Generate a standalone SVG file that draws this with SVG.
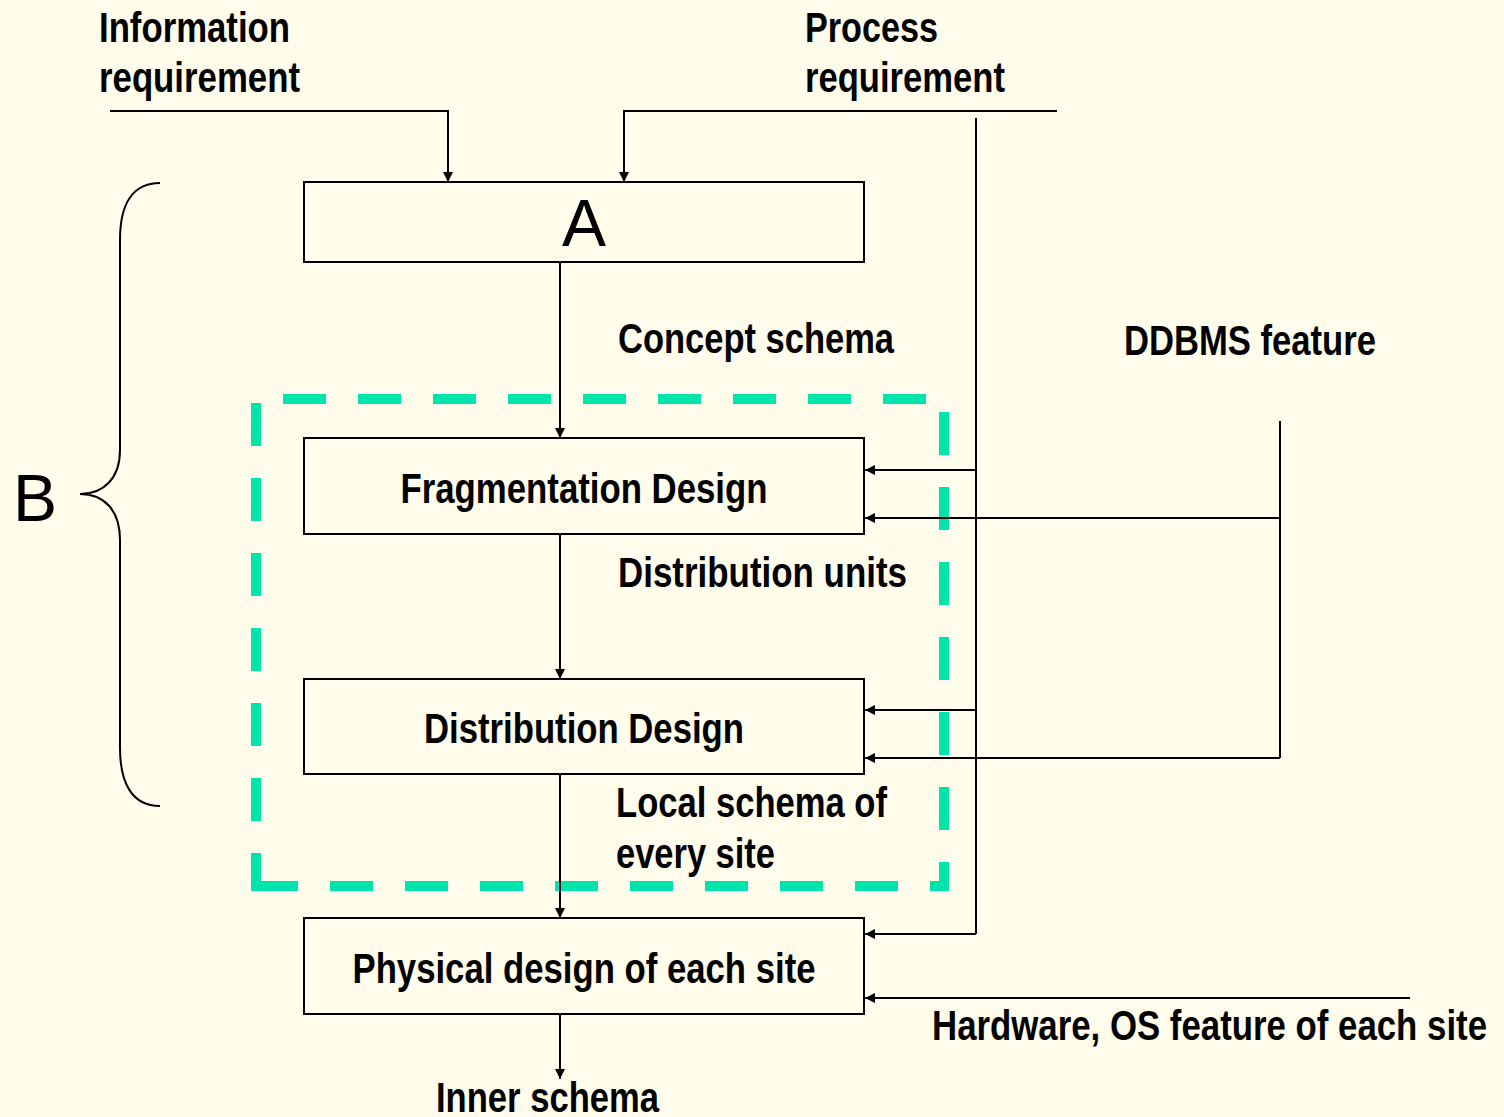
<svg xmlns="http://www.w3.org/2000/svg" width="1504" height="1117" viewBox="0 0 1504 1117">
  <defs>
    <marker id="arrow" viewBox="0 0 10 10" refX="10" refY="5" markerWidth="10" markerHeight="10" markerUnits="userSpaceOnUse" orient="auto">
      <path d="M0,0 L10,5 L0,10 Z" fill="#000"/>
    </marker>
    <style>
      .bg { fill: #FFFCEB; }
      .box { fill: none; stroke: #000; stroke-width: 2; }
      .wire { fill: none; stroke: #000; stroke-width: 2; }
      .arr { fill: none; stroke: #000; stroke-width: 2; marker-end: url(#arrow); }
      .zone { fill: none; stroke: #00E3AA; stroke-width: 10; stroke-dasharray: 43 32; }
      .lbl { font-family: "Liberation Sans Narrow", "Arial Narrow", "Liberation Sans", sans-serif; font-weight: bold; font-size: 42px; fill: #000; }
      .big { font-family: "Liberation Sans", Arial, sans-serif; font-size: 66px; fill: #000; }
      .mid { text-anchor: middle; }
    </style>
  </defs>

  <rect class="bg" x="0" y="0" width="1504" height="1117"/>

  <!-- dashed boundary around the distribution design steps, one stroke per side -->
  <g id="zone">
    <line class="zone" x1="251" y1="399" x2="949" y2="399" stroke-dashoffset="43"/>
    <line class="zone" x1="256" y1="399" x2="256" y2="891" stroke-dashoffset="71"/>
    <line class="zone" x1="944" y1="394" x2="944" y2="891" stroke-dashoffset="57"/>
    <line class="zone" x1="251" y1="886" x2="949" y2="886" stroke-dashoffset="71"/>
  </g>

  <!-- brace for stage B -->
  <path class="wire" d="M160,183 C132,183 120,205 120,240 L120,450 C120,478 104,494 80,494 C104,494 120,510 120,540 L120,748 C120,783 132,806 160,806"/>
  <text class="big" x="13" y="521" font-size="64">B</text>

  <g id="connectors">
    <!-- inputs at the top -->
    <polyline class="arr" points="110,111 448,111 448,182"/>
    <polyline class="arr" points="1057,111 624,111 624,182"/>
    <!-- process requirement feed on the right -->
    <line class="wire" x1="976" y1="118" x2="976" y2="934"/>
    <line class="arr" x1="976" y1="470" x2="865" y2="470"/>
    <line class="arr" x1="976" y1="710" x2="865" y2="710"/>
    <line class="arr" x1="976" y1="934" x2="865" y2="934"/>
    <!-- DDBMS feature feed -->
    <line class="wire" x1="1280" y1="421" x2="1280" y2="758"/>
    <line class="arr" x1="1280" y1="518" x2="865" y2="518"/>
    <line class="arr" x1="1280" y1="758" x2="865" y2="758"/>
    <!-- hardware / OS feed -->
    <line class="arr" x1="1410" y1="998" x2="865" y2="998"/>
    <!-- main vertical flow -->
    <line class="arr" x1="560" y1="262" x2="560" y2="438"/>
    <line class="arr" x1="560" y1="534" x2="560" y2="679"/>
    <line class="arr" x1="560" y1="774" x2="560" y2="918"/>
    <line class="arr" x1="560" y1="1014" x2="560" y2="1079"/>
  </g>

  <g id="node-a">
    <rect class="box" x="304" y="182" width="560" height="80"/>
    <text class="big mid" x="584" y="246">A</text>
  </g>
  <g id="node-fragmentation">
    <rect class="box" x="304" y="438" width="560" height="96"/>
    <text class="lbl mid" x="584" y="503" textLength="367" lengthAdjust="spacingAndGlyphs">Fragmentation Design</text>
  </g>
  <g id="node-distribution">
    <rect class="box" x="304" y="679" width="560" height="95"/>
    <text class="lbl mid" x="584" y="743" textLength="320" lengthAdjust="spacingAndGlyphs">Distribution Design</text>
  </g>
  <g id="node-physical">
    <rect class="box" x="304" y="918" width="560" height="96"/>
    <text class="lbl mid" x="584" y="983" textLength="463" lengthAdjust="spacingAndGlyphs">Physical design of each site</text>
  </g>

  <g id="labels">
    <text class="lbl" x="99" y="42" textLength="191" lengthAdjust="spacingAndGlyphs">Information</text>
    <text class="lbl" x="99" y="92" textLength="201" lengthAdjust="spacingAndGlyphs">requirement</text>
    <text class="lbl" x="805" y="42" textLength="133" lengthAdjust="spacingAndGlyphs">Process</text>
    <text class="lbl" x="805" y="92" textLength="200" lengthAdjust="spacingAndGlyphs">requirement</text>
    <text class="lbl" x="618" y="353" textLength="276" lengthAdjust="spacingAndGlyphs">Concept schema</text>
    <text class="lbl" x="1124" y="355" textLength="252" lengthAdjust="spacingAndGlyphs">DDBMS feature</text>
    <text class="lbl" x="618" y="587" textLength="289" lengthAdjust="spacingAndGlyphs">Distribution  units</text>
    <text class="lbl" x="616" y="817" textLength="271" lengthAdjust="spacingAndGlyphs">Local schema of</text>
    <text class="lbl" x="616" y="868" textLength="159" lengthAdjust="spacingAndGlyphs">every site</text>
    <text class="lbl" x="932" y="1040" textLength="555" lengthAdjust="spacingAndGlyphs">Hardware, OS feature of each site</text>
    <text class="lbl" x="436" y="1112" textLength="223" lengthAdjust="spacingAndGlyphs">Inner schema</text>
  </g>
</svg>
